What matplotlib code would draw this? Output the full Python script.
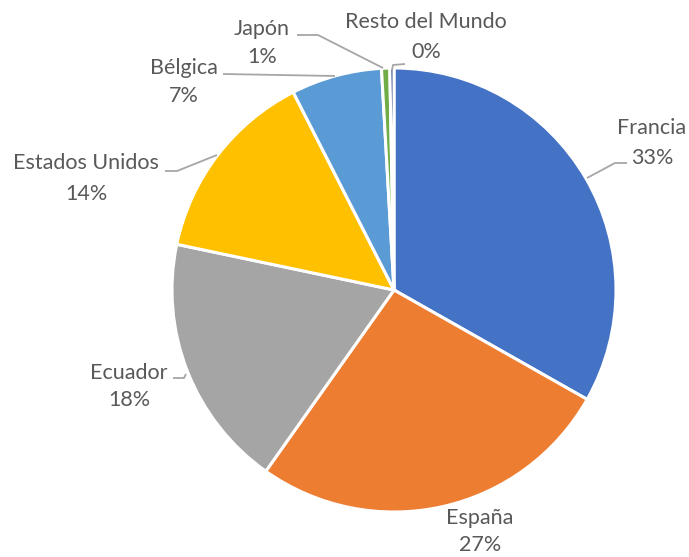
import matplotlib
matplotlib.use("Agg")
import matplotlib.pyplot as plt

labels = ["Francia", "España", "Ecuador", "Estados Unidos", "Bélgica", "Japón", "Resto del Mundo"]
values = [33.2, 26.6, 18.5, 14.2, 6.6, 0.6, 0.3]
pct_labels = ["33%", "27%", "18%", "14%", "7%", "1%", "0%"]
colors = ["#4472C4", "#ED7D31", "#A5A5A5", "#FFC000", "#5B9BD5", "#70AD47", "#264478"]

W, H = 689, 557
fig = plt.figure(figsize=(W / 100, H / 100), dpi=100)
ax = fig.add_axes([0, 0, 1, 1])

def Y(y):
    return H - y

cx, cy, r = 394, 290, 222
ax.pie(values, colors=colors, startangle=90, counterclock=False,
       center=(cx, Y(cy)), radius=r,
       wedgeprops=dict(edgecolor="white", linewidth=2.2), frame=True)
ax.set_xlim(0, W)
ax.set_ylim(0, H)
ax.set_aspect("equal")
ax.axis("off")

# label positions (pixel coords: name center, pct center)
label_pos = [
    (652, 128, 652, 158),
    (480, 518, 480, 545),
    (129, 373, 129, 400),
    (86, 163, 86, 194),
    (184, 68, 184, 96),
    (262, 29, 262, 57),
    (426, 22, 426, 52),
]
leaders = [
    [(587, 178), (615, 163), (627, 163)],
    None,
    [(173, 378), (184, 378), (186, 374)],
    [(217, 155), (177, 171), (165, 171)],
    [(223, 74), (335, 76)],
    [(297, 35), (318, 35), (383, 68)],
    [(392, 70), (393, 65), (405, 64)],
]

txt = dict(color="#595959", fontsize=15.5, family=["Lato", "DejaVu Sans"],
           ha="center", va="center")
for lab, pct, pos, ld in zip(labels, pct_labels, label_pos, leaders):
    ax.text(pos[0], Y(pos[1]), lab, **txt)
    ax.text(pos[2], Y(pos[3]), pct, **txt)
    if ld:
        ax.plot([p[0] for p in ld], [Y(p[1]) for p in ld], color="#A6A6A6", lw=1.3,
                solid_capstyle="butt")

fig.savefig("out.png", dpi=100, facecolor="white")
